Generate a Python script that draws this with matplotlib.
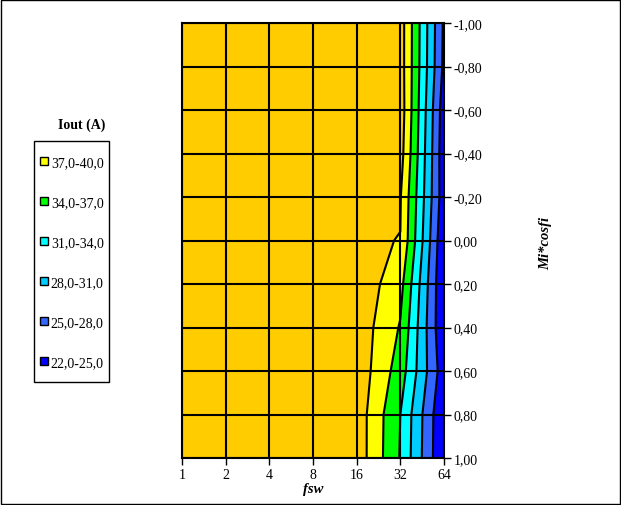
import numpy as np
import matplotlib.pyplot as plt
from matplotlib.patches import Patch, Rectangle
from matplotlib.ticker import FuncFormatter

plt.rcParams["font.family"] = ["Liberation Serif", "DejaVu Serif"]

# Dados
fsw = [1, 2, 4, 8, 16, 32, 64]
mi_cosfi = [-1.0, -0.8, -0.6, -0.4, -0.2, 0.0, 0.2, 0.4, 0.6, 0.8, 1.0]

# Iout (A) por coluna de fsw, de Mi*cosfi = -1,00 até 1,00
iout_fsw1 = [42.9, 42.9, 42.9, 42.9, 42.9, 42.9, 42.9, 42.9, 42.9, 42.9, 42.9]
iout_fsw2 = [42.8, 42.8, 42.8, 42.8, 42.8, 42.8, 42.8, 42.8, 42.8, 42.8, 42.8]
iout_fsw4 = [42.6, 42.6, 42.6, 42.6, 42.6, 42.6, 42.6, 42.6, 42.6, 42.6, 42.6]
iout_fsw8 = [42.3, 42.3, 42.3, 42.3, 42.3, 42.3, 42.3, 42.3, 42.3, 42.3, 42.3]
iout_fsw16 = [42.3, 42.2, 42.0, 41.5, 41.0, 40.3, 42.3, 42.0, 42.1, 41.8, 41.84]
iout_fsw32 = [41.5, 41.5, 41.7, 41.25, 40.2, 39.95, 38.0, 36.76, 35.55, 34.0, 33.8]
iout_fsw64 = [24.5, 24.3, 23.3, 23.05, 23.2, 22.4, 22.1, 22.2, 23.2, 22.1, 22.0]

niveis = [22, 25, 28, 31, 34, 37, 40, 43]
cores = ["#0000FF", "#3366FF", "#00CCFF", "#00FFFF", "#00FF00", "#FFFF00", "#FFCC00"]
rotulos = ["22,0-25,0", "25,0-28,0", "28,0-31,0", "31,0-34,0", "34,0-37,0", "37,0-40,0"]

Z = np.column_stack([iout_fsw1, iout_fsw2, iout_fsw4, iout_fsw8,
                     iout_fsw16, iout_fsw32, iout_fsw64])
xi = np.arange(len(fsw))
yi = np.array(mi_cosfi)

fig = plt.figure(figsize=(6.21, 5.06), dpi=100)
ax = fig.add_axes([182 / 621, 1 - 459 / 506, 262 / 621, 435 / 506])

ax.contourf(xi, yi, Z, levels=niveis, colors=cores)
ax.contour(xi, yi, Z, levels=niveis[1:-1], colors="black", linewidths=1.5)

# Grade
for x in xi:
    ax.axvline(x, color="black", lw=1.5, zorder=3)
for y in yi:
    ax.axhline(y, color="black", lw=1.5, zorder=3)


def fmt_y(v, p):
    s = f"{v:.2f}".replace(".", ",")
    return "0,00" if abs(v) < 1e-9 else s


ax.set_xlim(xi[0], xi[-1])
ax.set_ylim(yi[-1], yi[0])  # -1 em cima
ax.set_xticks(xi)
ax.set_xticklabels([str(v) for v in fsw])
ax.set_yticks(yi)
ax.yaxis.tick_right()
ax.yaxis.set_major_formatter(FuncFormatter(fmt_y))
ax.tick_params(axis="both", direction="out", length=5, width=1, labelsize=10, pad=2)
for s in ax.spines.values():
    s.set_linewidth(1.5)

fig.text(313 / 621, 1 - 490 / 506, "fsw", ha="center", va="center",
         fontsize=10.5, fontweight="bold", style="italic")
fig.text(546 / 621, 1 - 243 / 506, "Mi*cosfi", ha="center", va="center",
         rotation=90, fontsize=10.5, fontweight="bold", style="italic")

# Legenda
fig.text(82 / 621, 1 - 125 / 506, "Iout (A)", ha="center", va="center",
         fontsize=10, fontweight="bold")
fig.patches.append(Rectangle((34 / 621, 1 - 383 / 506), 75 / 621, 241 / 506,
                             transform=fig.transFigure, fill=False,
                             edgecolor="black", lw=1))
handles = [Patch(facecolor=c, edgecolor="black", linewidth=1) for c in cores[:-1]]
leg = fig.legend(handles[::-1], rotulos[::-1], loc="upper left",
                 bbox_to_anchor=(40 / 621, 1 - 157 / 506), borderaxespad=0,
                 fontsize=10, handlelength=0.58, handleheight=0.58,
                 handletextpad=0.2, labelspacing=1.94, borderpad=0,
                 frameon=False)

fig.patches.append(Rectangle((0.001, 0.002), 0.997, 0.996, transform=fig.transFigure,
                             fill=False, edgecolor="black", lw=1))

fig.savefig("out.png", dpi=100)
